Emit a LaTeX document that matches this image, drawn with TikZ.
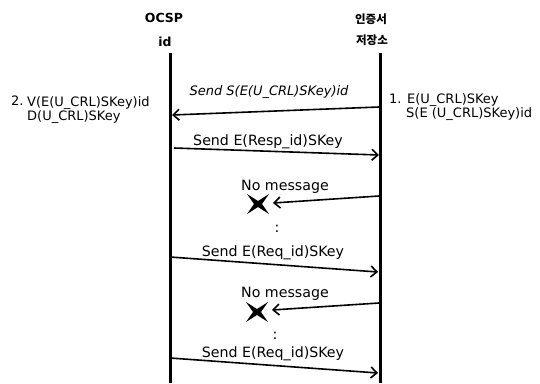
\documentclass[tikz,border=0pt]{standalone}
\usepackage{fontspec}
\setmainfont{DejaVu Sans}
\newfontfamily\kofont{Noto Sans CJK KR}
\usetikzlibrary{arrows.meta}
\begin{document}
\begin{tikzpicture}[x=1pt,y=-1pt,
  life/.style={line width=3pt},
  msg/.style={line width=1.6pt,-{Straight Barb[length=6pt,width=11pt,line width=1.6pt]}},
  lbl/.style={font=\fontsize{14.2}{16}\selectfont,inner sep=0pt},
  note/.style={font=\fontsize{13}{15}\selectfont,inner sep=0pt,anchor=west},
  hdr/.style={font=\fontsize{12.5}{14}\selectfont\bfseries,inner sep=0pt},
  khdr/.style={font=\fontsize{11.5}{14}\selectfont\kofont\bfseries,inner sep=0pt},
  cross/.style={fill=black}]
\useasboundingbox (0,0) rectangle (540,383);
% headers
\node[hdr] (h1) at (164,18) {OCSP};
\node[hdr] (h2) at (165,42) {id};
\node[khdr] (h3) at (371,19) {인증서};
\node[khdr] (h4) at (372,40) {저장소};
% lifelines
\coordinate (Ltop) at (170,53);
\coordinate (Lbot) at (170,383);
\coordinate (Rtop) at (380,53);
\coordinate (Rbot) at (380,383);
\draw[life] (Ltop) -- (Lbot);
\draw[life] (Rtop) -- (Rbot);
% notes
\node[note] (n2n) at (11,101) {2.};
\node[note] (n2a) at (27,103) {V(E(U\_CRL)SKey)id};
\node[note] (n2b) at (27,117) {D(U\_CRL)SKey};
\node[note] (n1a) at (389,100) {1. E(U\_CRL)SKey};
\node[note] (n1b) at (406,114) {S(E (U\_CRL)SKey)id};
% message 1
\coordinate (a1s) at (379,107);
\coordinate (a1e) at (172,115);
\draw[msg] (a1s) -- (a1e);
\node[lbl,font=\fontsize{13}{15}\selectfont\itshape] (m1) at (269,92) {Send S(E(U\_CRL)SKey)id};
% message 2
\coordinate (a2s) at (174,148);
\coordinate (a2e) at (379,155);
\draw[msg] (a2s) -- (a2e);
\node[lbl] (m2) at (268,142) {Send E(Resp\_id)SKey};
% lost message 1
\coordinate (a3s) at (379,196);
\coordinate (x1) at (258,204);
\coordinate (a3e) at (273,203);
\draw[msg] (a3s) -- (a3e);
\node[lbl] (m3) at (285,187) {No message};
\fill[cross] (x1) ++(-11,-10) -- ++(11,7) -- ++(11,-7) -- ++(-7,10) -- ++(7,10) -- ++(-11,-7) -- ++(-11,7) -- ++(7,-10) -- cycle;
\node[lbl] (d1) at (277,229) {:};
% message 4
\coordinate (a4s) at (170,257);
\coordinate (a4e) at (378,272);
\draw[msg] (a4s) -- (a4e);
\node[lbl] (m4) at (273,253) {Send E(Req\_id)SKey};
% lost message 2
\coordinate (a5s) at (379,303);
\coordinate (x2) at (257,312);
\coordinate (a5e) at (272,310);
\draw[msg] (a5s) -- (a5e);
\node[lbl] (m5) at (285,294) {No message};
\fill[cross] (x2) ++(-11,-10) -- ++(11,7) -- ++(11,-7) -- ++(-7,10) -- ++(7,10) -- ++(-11,-7) -- ++(-11,7) -- ++(7,-10) -- cycle;
\node[lbl] (d2) at (275,336) {:};
% message 6
\coordinate (a6s) at (170,358);
\coordinate (a6e) at (378,373);
\draw[msg] (a6s) -- (a6e);
\node[lbl] (m6) at (273,354) {Send E(Req\_id)SKey};
\end{tikzpicture}
\end{document}
